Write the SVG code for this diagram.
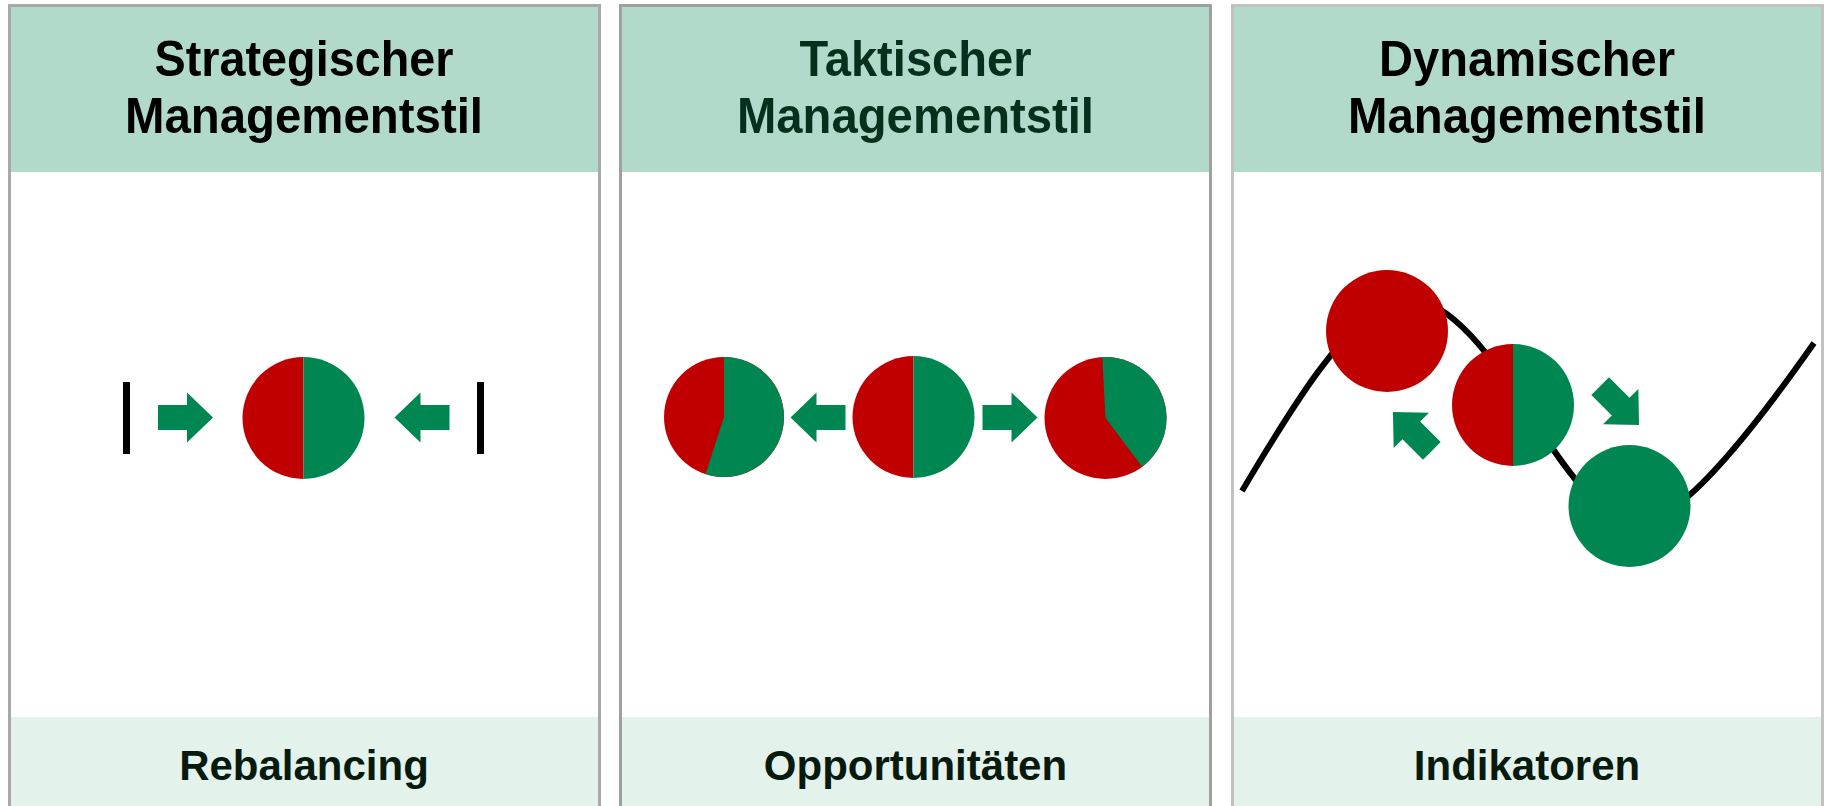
<svg xmlns="http://www.w3.org/2000/svg" width="1826" height="806" viewBox="0 0 1826 806">
<style>
.hdr{fill:#b2dacb}
.ftr{fill:#e4f2ec}
.body{fill:#ffffff}
.title{font-family:"Liberation Sans",Arial,sans-serif;font-weight:bold;font-size:50px;text-anchor:middle}
.foot{font-family:"Liberation Sans",Arial,sans-serif;font-weight:bold;font-size:42px;text-anchor:middle;fill:#071a0e}
.red{fill:#c00000}
.grn{fill:#008751}
.bar{fill:#000000}
</style>
<defs>
<path id="arr" d="M-27.5,-12.5 L1.5,-12.5 L1.5,-25 L27.5,0 L1.5,25 L1.5,12.5 L-27.5,12.5 Z" fill="#008751"/>
</defs>

<g id="panel-strategisch">
<rect class="body" x="9.5" y="5.5" width="590" height="820"/>
<rect class="hdr" x="9.5" y="5.5" width="590" height="166.5"/>
<rect class="ftr" x="9.5" y="717" width="590" height="100"/>
<rect x="9.5" y="5.5" width="590" height="820" fill="none" stroke="#a8a8a8" stroke-width="3"/>
<text class="title" x="304" y="76" fill="#000000" textLength="299" lengthAdjust="spacingAndGlyphs">Strategischer</text>
<text class="title" x="304" y="133" fill="#000000" textLength="358" lengthAdjust="spacingAndGlyphs">Managementstil</text>
<text class="foot" x="304" y="780">Rebalancing</text>
<rect class="bar" x="123" y="382" width="7" height="72"/>
<rect class="bar" x="477" y="382" width="7" height="72"/>
<path class="red" d="M303.5,357 A61,61 0 0 0 303.5,479 Z"/>
<path class="grn" d="M303.5,357 A61,61 0 0 1 303.5,479 Z"/>
</g>

<g id="panel-taktisch">
<rect class="body" x="620.5" y="5.5" width="590" height="820"/>
<rect class="hdr" x="620.5" y="5.5" width="590" height="166.5"/>
<rect class="ftr" x="620.5" y="717" width="590" height="100"/>
<rect x="620.5" y="5.5" width="590" height="820" fill="none" stroke="#a0a0a0" stroke-width="3"/>
<text class="title" x="915.5" y="76" fill="#06301c" textLength="232" lengthAdjust="spacingAndGlyphs">Taktischer</text>
<text class="title" x="915.5" y="133" fill="#06301c" textLength="357" lengthAdjust="spacingAndGlyphs">Managementstil</text>
<text class="foot" x="915.5" y="780">Opportunitäten</text>
<!-- left pie: green 55% -->
<circle class="red" cx="724" cy="417" r="60"/>
<path class="grn" d="M724,417 L724,357 A60,60 0 1 1 705.5,474.1 Z"/>
<!-- middle pie -->
<path class="red" d="M913.5,356 A61,61 0 0 0 913.5,478 Z"/>
<path class="grn" d="M913.5,356 A61,61 0 0 1 913.5,478 Z"/>
<!-- right pie: green 40% -->
<circle class="red" cx="1105.5" cy="418" r="61"/>
<path class="grn" d="M1105.5,418 L1102.3,357.1 A61,61 0 0 1 1142.2,466.8 Z"/>
</g>

<g id="panel-dynamisch">
<rect class="body" x="1232.5" y="5.5" width="590" height="820"/>
<rect class="hdr" x="1232.5" y="5.5" width="590" height="166.5"/>
<rect class="ftr" x="1232.5" y="717" width="590" height="100"/>
<rect x="1232.5" y="5.5" width="590" height="820" fill="none" stroke="#c2c2c2" stroke-width="3"/>
<text class="title" x="1527" y="76" fill="#000000" textLength="296" lengthAdjust="spacingAndGlyphs">Dynamischer</text>
<text class="title" x="1527" y="133" fill="#000000" textLength="358" lengthAdjust="spacingAndGlyphs">Managementstil</text>
<text class="foot" x="1527" y="780">Indikatoren</text>
<path d="M1242,491 C1290,410 1350,310 1400,300 C1450,290 1500,370 1540,430 C1580,490 1610,530 1650,520 C1690,510 1760,420 1814,343" fill="none" stroke="#000000" stroke-width="6"/>
<circle class="red" cx="1387" cy="331" r="61"/>
<path class="red" d="M1513,344 A61,61 0 0 0 1513,466 Z"/>
<path class="grn" d="M1513,344 A61,61 0 0 1 1513,466 Z"/>
<circle class="grn" cx="1629.5" cy="506" r="61"/>
</g>

<g id="connectors">
<use href="#arr" transform="translate(185.5,417.5)"/>
<use href="#arr" transform="translate(422,417.5) rotate(180)"/>
<use href="#arr" transform="translate(818,417.5) rotate(180)"/>
<use href="#arr" transform="translate(1010,417.5)"/>
<use href="#arr" transform="translate(1412.4,431.4) rotate(225)"/>
<use href="#arr" transform="translate(1619.6,405.6) rotate(45)"/>
</g>
</svg>
